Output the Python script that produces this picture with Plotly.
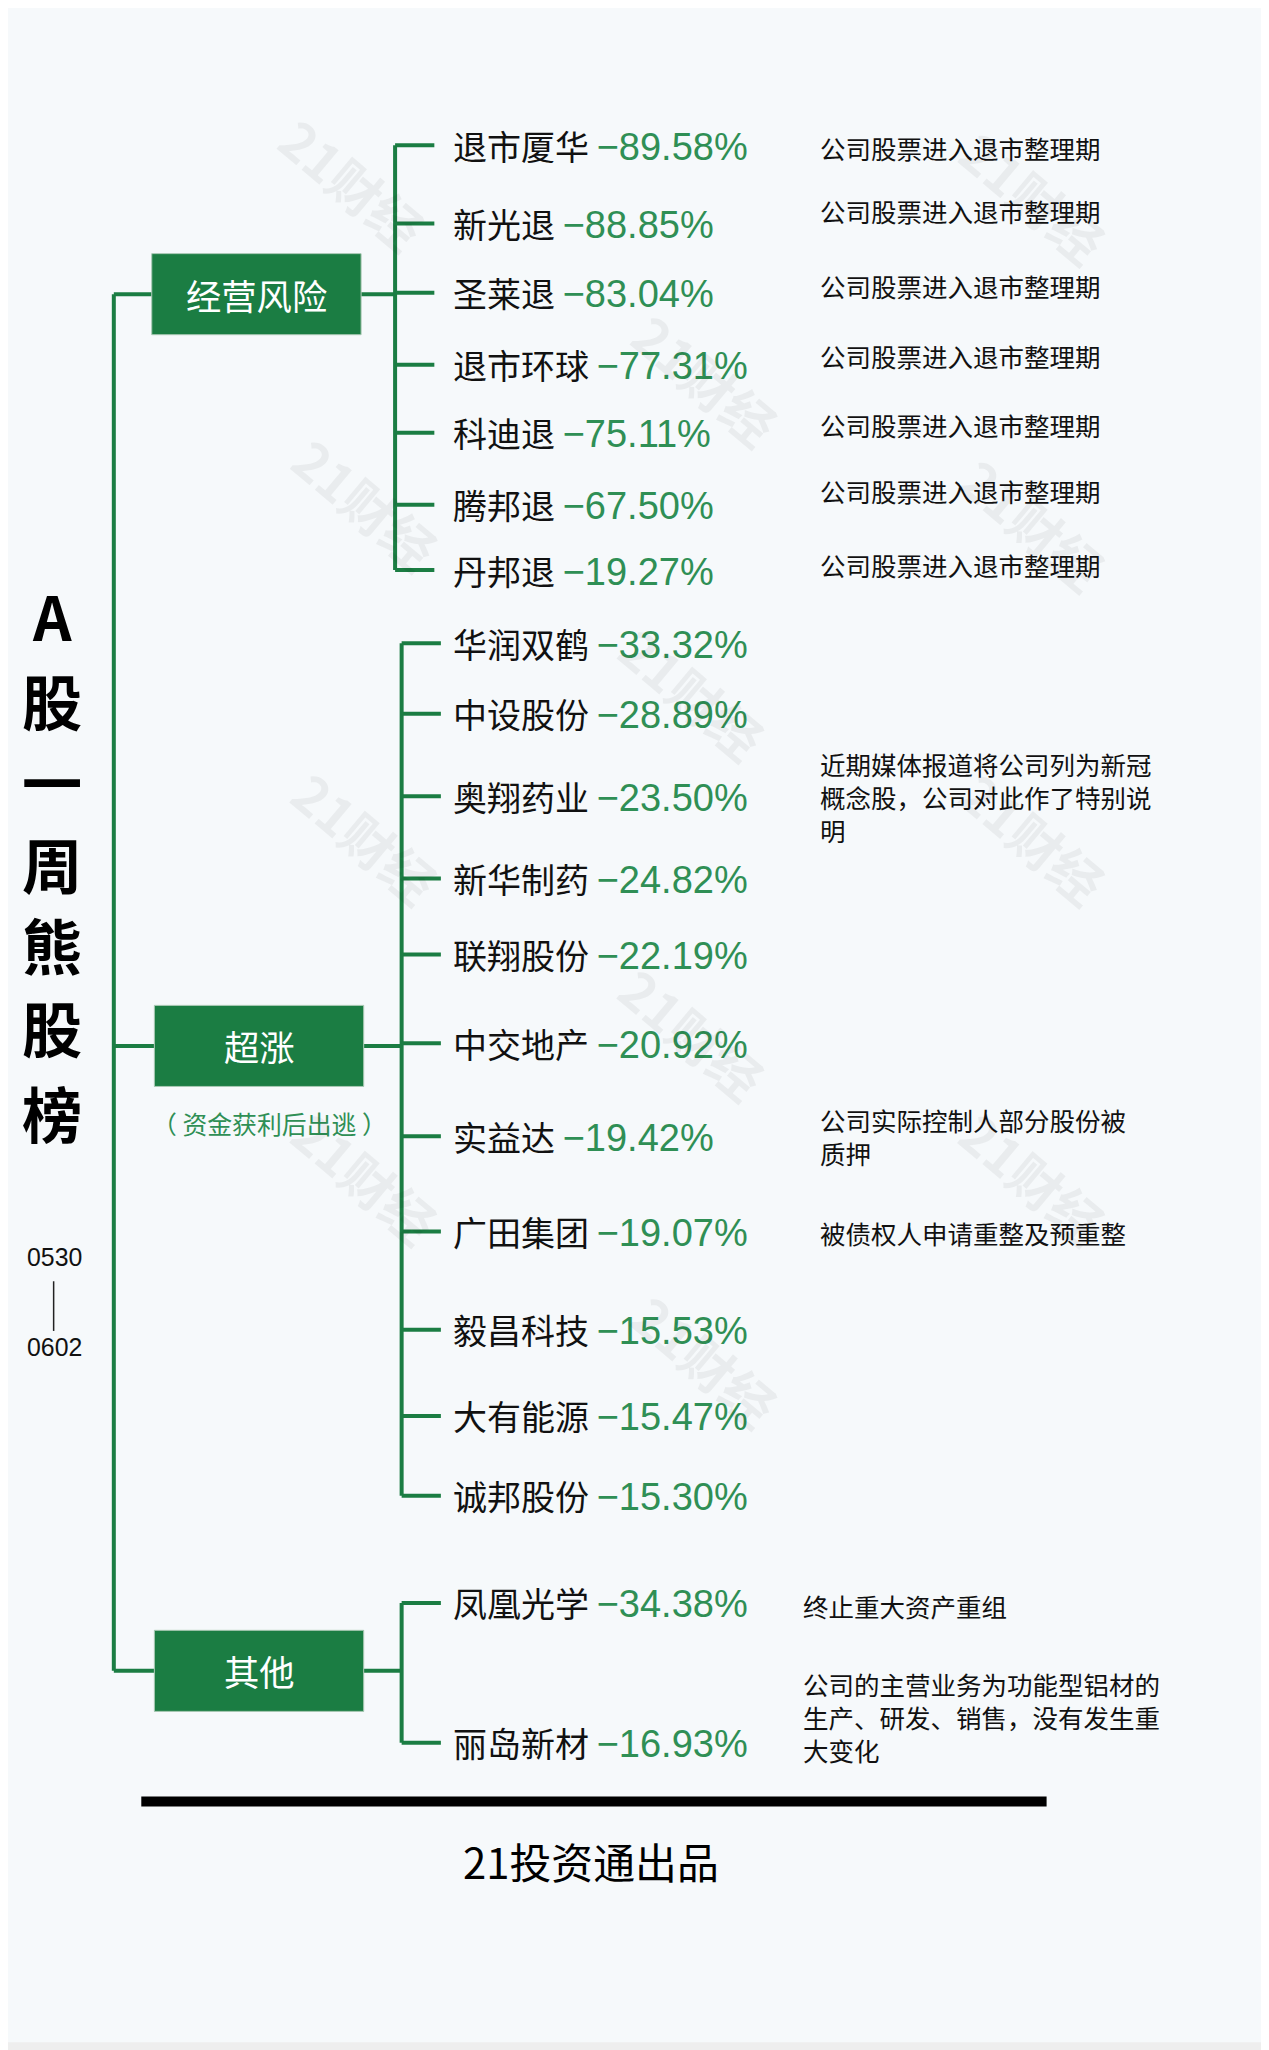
import plotly.graph_objects as go

# data
groups = ["经营风险", "超涨", "其他"]
group_sub = ["", "（ 资金获利后出逃 ）", ""]
names = ["退市厦华", "新光退", "圣莱退", "退市环球", "科迪退", "腾邦退", "丹邦退",
         "华润双鹤", "中设股份", "奥翔药业", "新华制药", "联翔股份", "中交地产", "实益达",
         "广田集团", "毅昌科技", "大有能源", "诚邦股份",
         "凤凰光学", "丽岛新材"]
changes = [-89.58, -88.85, -83.04, -77.31, -75.11, -67.50, -19.27,
           -33.32, -28.89, -23.50, -24.82, -22.19, -20.92, -19.42,
           -19.07, -15.53, -15.47, -15.30,
           -34.38, -16.93]
group_of = [0] * 7 + [1] * 11 + [2] * 2
notes = {0: "公司股票进入退市整理期", 1: "公司股票进入退市整理期", 2: "公司股票进入退市整理期",
         3: "公司股票进入退市整理期", 4: "公司股票进入退市整理期", 5: "公司股票进入退市整理期",
         6: "公司股票进入退市整理期",
         9: "近期媒体报道将公司列为新冠<br>概念股，公司对此作了特别说<br>明",
         13: "公司实际控制人部分股份被<br>质押",
         14: "被债权人申请重整及预重整",
         18: "终止重大资产重组",
         19: "公司的主营业务为功能型铝材的<br>生产、研发、销售，没有发生重<br>大变化"}
title_chars = ["A", "股", "一", "周", "熊", "股", "榜"]
period = ["0530", "0602"]

# layout (drawn in 970-wide units, scaled to 1269 px)
W, H = 970, 1568
S = 1269 / W
OFF = 8 / S  # page body margin
GREEN = "#1b7d43"
VGREEN = "#2f8f55"
FONT = "Noto Sans CJK SC"
row_y = [111, 171, 224, 279, 331, 386, 436,
         492, 546, 609, 672, 730, 798, 869, 942, 1017, 1083, 1144,
         1226, 1333]
note_y = {0: 113, 1: 161, 2: 218, 3: 272, 4: 325, 5: 375, 6: 432,
          9: 609, 13: 869, 14: 943, 18: 1228, 19: 1313}
box_y = [225, 800, 1278]
bracket_x = [302, 307, 307]

fig = go.Figure()
shapes = [dict(type="rect", x0=6, x1=965, y0=6, y1=1562, fillcolor="#f6f9fb",
               line=dict(width=0), layer="below")]
ann = []

def line(xs, ys, w=4, c=GREEN):
    fig.add_trace(go.Scatter(x=xs, y=ys, mode="lines", line=dict(color=c, width=w),
                             hoverinfo="skip", showlegend=False))

# trunk
line([87, 87], [box_y[0], box_y[-1]])
for g, gname in enumerate(groups):
    by = box_y[g]
    x0 = 116 if g == 0 else 118
    line([87, x0], [by, by])
    shapes.append(dict(type="rect", x0=x0, x1=x0 + 160, y0=by - 31, y1=by + 31,
                       fillcolor=GREEN, line=dict(color="#a9c9b4", width=1)))
    ann.append(dict(x=x0 + 80, y=by, text=gname, showarrow=False,
                    font=dict(family=FONT, size=27 * S, color="white")))
    if group_sub[g]:
        ann.append(dict(x=x0 + 88, y=by + 59, text=group_sub[g], showarrow=False,
                        font=dict(family=FONT, size=19 * S, color=VGREEN)))
    rows = [i for i in range(len(names)) if group_of[i] == g]
    bx = bracket_x[g]
    line([x0 + 160, bx], [by, by])
    line([bx, bx], [row_y[rows[0]], row_y[rows[-1]]])
    for i in rows:
        line([bx, bx + 30], [row_y[i], row_y[i]])
        ann.append(dict(x=345, y=row_y[i], xanchor="left", showarrow=False,
                        text=f"{names[i]} <span style='color:{VGREEN};font-family:Liberation Sans;"
                             f"font-size:{29 * S:.0f}px'>−{abs(changes[i]):.2f}%</span>",
                        font=dict(family=FONT, size=26 * S, color="#111")))

for i, t in notes.items():
    ann.append(dict(x=625 if i < 18 else 612, y=note_y[i], xanchor="left", align="left",
                    showarrow=False, text=t,
                    font=dict(family=FONT, size=19.5 * S, color="#111")))

# left title
ty = [470, 535, 597, 660, 722, 785, 850]
for c, y in zip(title_chars, ty):
    ann.append(dict(x=40, y=y, text=f"<b>{c}</b>", showarrow=False,
                    font=dict(family=FONT, size=46 * S, color="#000")))
ann.append(dict(x=42, y=962, text=period[0], showarrow=False,
                font=dict(family="Liberation Sans", size=19 * S, color="#111")))
ann.append(dict(x=42, y=1031, text=period[1], showarrow=False,
                font=dict(family="Liberation Sans", size=19 * S, color="#111")))
line([41, 41], [980, 1018], w=1.5, c="#222")

# footer
line([108, 800], [1378, 1378], w=10, c="#000")
ann.append(dict(x=452, y=1423, text="21投资通出品", showarrow=False,
                font=dict(family=FONT, size=32 * S, color="#000")))

# faint watermarks
for wx, wy in [(270, 140), (790, 150), (540, 290), (280, 385), (790, 400), (530, 530),
               (280, 640), (790, 640), (530, 790), (280, 900), (790, 900), (540, 1040)]:
    ann.append(dict(x=wx, y=wy, text="<b>21财经</b>", showarrow=False, textangle=40,
                    font=dict(family=FONT, size=40 * S, color="rgba(0,0,0,0.05)")))

fig.update_layout(width=1269, height=2050, margin=dict(l=0, r=0, t=0, b=0),
                  paper_bgcolor="#eeeeee", plot_bgcolor="rgba(0,0,0,0)",
                  shapes=shapes, annotations=ann,
                  xaxis=dict(range=[OFF, W + OFF], visible=False, fixedrange=True),
                  yaxis=dict(range=[H + OFF, OFF], visible=False, fixedrange=True))
fig.write_html("out.html")
